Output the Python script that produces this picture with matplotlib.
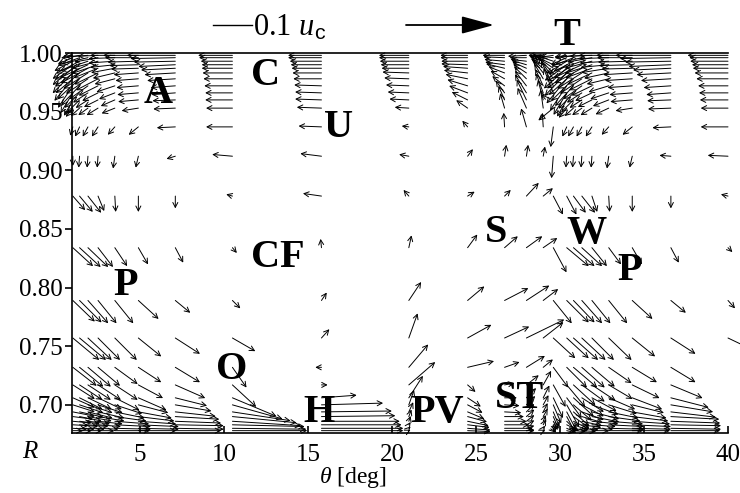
import numpy as np
import matplotlib
matplotlib.use("Agg")
import matplotlib.pyplot as plt
from matplotlib.lines import Line2D

plt.rcParams['font.family'] = 'Liberation Serif'
plt.rcParams['mathtext.fontset'] = 'custom'
plt.rcParams['mathtext.rm'] = 'Liberation Serif'
plt.rcParams['mathtext.it'] = 'Liberation Serif:italic'
plt.rcParams['mathtext.sf'] = 'Liberation Sans'

# measurement stations
theta = [1.0, 1.4, 1.9, 2.5, 3.5, 4.9, 7.1, 10.5, 15.8, 21.0, 24.5, 26.7,
         28.0, 29.0, 29.6, 30.4, 30.8, 31.3, 31.9, 32.9, 34.3, 36.6, 40.0]
R = [0.998, 0.996, 0.993, 0.990, 0.987, 0.983, 0.978, 0.972, 0.966, 0.960,
     0.953, 0.937, 0.912, 0.878, 0.834, 0.789, 0.757, 0.732, 0.717, 0.706,
     0.700, 0.694, 0.690, 0.686, 0.683, 0.680, 0.678]

nan = np.nan
# velocity components in units of 0.001 u_c (rows = R, columns = theta)
U = [
    [-11, -21, -25, -23, -28, -40, -55, -39, -38, -34, -31, -25, -21, -17, -14, -14, -21, -25, -25, -34, -41, -63, -46],
    [-17, -25, -30, -27, -30, -38, -51, -38, -38, -34, -31, -24, -19, -16, -17, -18, -25, -30, -28, -34, -40, -58, -44],
    [-21, -27, -32, -30, -30, -35, -47, -36, -36, -33, -30, -23, -18, -15, -21, -23, -28, -32, -31, -33, -39, -52, -43],
    [-23, -28, -32, -30, -28, -33, -42, -35, -35, -32, -30, -22, -17, -14, -23, -25, -30, -32, -31, -32, -38, -48, -41],
    [-23, -28, -31, -28, -27, -31, -39, -35, -34, -31, -28, -21, -16, -13, -23, -26, -30, -31, -30, -31, -35, -43, -40],
    [-23, -27, -28, -27, -25, -28, -35, -34, -33, -30, -27, -18, -15, -11, -21, -25, -28, -28, -28, -28, -33, -39, -38],
    [-21, -25, -25, -25, -23, -26, -32, -33, -32, -28, -25, -16, -14, -10, -17, -23, -25, -25, -26, -25, -31, -34, -36],
    [-17, -21, -21, -22, -21, -25, -28, -32, -31, -26, -23, -14, -13, -9, -14, -19, -21, -21, -23, -23, -28, -31, -34],
    [-14, -17, -17, -18, -18, -24, -27, -31, -30, -24, -21, -10, -13, -8, -11, -15, -17, -17, -19, -21, -26, -28, -33],
    [-10, -14, -14, -16, -16, -23, -26, -31, -30, -22, -18, -7, -11, -6, -14, -11, -14, -14, -16, -18, -25, -27, -32],
    [-8, -10, -11, -13, -15, -19, -25, -30, -28, -16, -13, -5, -10, -3, -17, -9, -10, -11, -13, -15, -19, -26, -31],
    [-3, -5, -6, -7, -8, -11, -21, -30, -26, -8, -6, -1, -6, -1, -3, -5, -6, -6, -7, -8, -11, -21, -31],
    [0, -1, -1, -1, -2, -3, -10, -23, -24, -11, 6, 2, 2, 2, -2, -1, -1, -1, -1, -2, -3, -13, -23],
    [14, 15, 15, 7, 1, 0, 0, -7, -21, -6, 8, 7, 14, 11, 11, 11, 14, 15, 6, 1, 0, 0, -8],
    [23, 24, 23, 17, 14, 11, 9, 5, -1, 3, 11, 15, 18, 16, 15, 25, 24, 23, 17, 14, 11, 9, 5],
    [25, 25, 23, 21, 21, 23, 17, 9, 6, 14, 19, 27, 26, 17, 21, 25, 24, 23, 21, 21, 23, 17, 8],
    [30, 30, 27, 25, 25, 26, 28, 26, 9, 10, 27, 28, 43, 23, 25, 25, 28, 27, 25, 26, 26, 28, 23],
    [27, 27, 26, 25, 26, 26, 28, 16, -7, 22, 30, 17, 21, 11, 17, 23, 27, 26, 26, 26, 28, 28, nan],
    [25, 26, 26, 26, 26, 28, 34, 27, 7, 30, 9, 11, 14, 9, 14, 21, 25, 26, 27, 27, 31, 36, nan],
    [25, 26, 27, 27, 28, 32, 36, 50, 40, 16, 15, 14, 11, 7, 11, 17, 23, 25, 28, 30, 34, 43, nan],
    [25, 27, 28, 28, 31, 34, 41, 57, 70, 6, 17, 17, 10, 6, 9, 14, 21, 25, 30, 32, 36, 48, nan],
    [25, 27, 28, 30, 34, 38, 46, 66, 80, 5, 19, 19, 9, 5, 7, 11, 18, 25, 31, 34, 39, 51, nan],
    [23, 25, 27, 30, 36, 41, 50, 73, 84, 3, 22, 22, 9, 5, 6, 9, 18, 24, 31, 36, 41, 55, nan],
    [21, 23, 25, 28, 39, 43, 52, 78, 89, 2, 24, 25, 9, 3, 5, 11, 18, 23, 30, 39, 43, 56, nan],
    [18, 21, 23, 26, 41, 46, 55, 82, 91, 2, 25, 28, 9, 3, 3, 14, 17, 22, 27, 40, 44, 57, nan],
    [16, 17, 19, 23, 41, 46, 55, 84, 93, 2, 26, 32, 9, 2, 3, 11, 16, 19, 24, 40, 44, 57, nan],
    [11, 14, 16, 18, 40, 43, 52, 85, 93, 2, 26, 34, 9, 2, 2, 9, 14, 16, 19, 39, 43, 56, nan],
]
V = [
    [-1, -3, -2, -1, 0, 0, 0, 0, 0, 0, 0, 0, -1, 0, -2, -2, -3, -2, -1, 0, 0, 0, 0],
    [-7, -9, -7, -5, -1, 0, -1, 0, 0, 0, 0, 1, 0, 2, 2, -8, -10, -7, -5, -1, 0, -1, 0],
    [-11, -14, -11, -8, -2, -1, -1, 0, 0, 0, 0, 2, 2, 5, 7, -14, -15, -11, -8, -2, -1, -1, 0],
    [-16, -17, -15, -10, -3, -1, -2, 0, 0, 0, 1, 3, 5, 7, 11, -18, -19, -15, -10, -3, -1, -2, 0],
    [-19, -21, -17, -11, -5, -1, -2, 0, 0, 0, 2, 5, 7, 10, 16, -23, -23, -17, -11, -5, -1, -2, 0],
    [-23, -23, -18, -13, -6, -2, -2, 0, 0, 1, 3, 7, 10, 14, 21, -26, -25, -18, -13, -6, -2, -2, 0],
    [-25, -23, -17, -13, -6, -2, -2, 0, 0, 1, 5, 9, 14, 17, 25, -28, -25, -17, -13, -6, -2, -2, 0],
    [-25, -22, -15, -11, -7, -2, -2, 0, 1, 1, 7, 11, 17, 19, 28, -28, -23, -15, -11, -7, -2, -2, 0],
    [-23, -17, -11, -9, -7, -2, -2, 0, 1, 1, 8, 14, 21, 22, 28, -25, -18, -11, -9, -7, -2, -2, 0],
    [-18, -14, -9, -8, -7, -2, -1, 0, 1, 1, 9, 16, 23, 23, 6, -19, -14, -9, -8, -7, -2, -1, 0],
    [-10, -9, -8, -8, -6, -3, -1, 0, 1, 1, 9, 17, 23, 21, -14, -11, -9, -8, -8, -7, -3, -1, 0],
    [-10, -11, -11, -11, -9, -9, -1, 0, 1, 1, 7, 16, 21, 16, -23, -11, -11, -11, -11, -9, -9, -1, 0],
    [-11, -13, -13, -13, -14, -13, -3, 2, 3, 2, 8, 13, 13, 11, -25, -13, -13, -13, -13, -14, -13, 1, 1],
    [-16, -18, -19, -17, -18, -18, -14, 2, 3, 7, 5, 7, 15, 9, -21, -21, -19, -19, -18, -18, -18, -14, 2],
    [-21, -22, -22, -22, -21, -19, -17, -6, 10, 14, 15, 13, 13, 11, -28, -21, -21, -21, -21, -19, -19, -17, -5],
    [-24, -25, -26, -26, -26, -21, -14, -9, 9, 21, 16, 14, 17, 13, -26, -25, -25, -26, -26, -26, -21, -14, -9],
    [-25, -25, -25, -25, -25, -21, -18, -15, 10, 28, 15, 13, 21, 18, -23, -23, -25, -25, -25, -25, -21, -18, -11],
    [-21, -22, -22, -21, -19, -17, -17, -23, 0, 26, 7, 6, 13, 9, -23, -23, -23, -23, -22, -18, -17, -17, nan],
    [-16, -17, -17, -17, -17, -15, -15, -25, 0, 26, -8, 2, 11, 16, -25, -25, -23, -19, -18, -16, -15, -15, nan],
    [-11, -13, -13, -13, -14, -14, -9, -21, 3, 25, -10, 0, 11, 14, -23, -23, -21, -16, -15, -13, -13, -11, nan],
    [-8, -9, -9, -9, -10, -9, -7, -16, 2, 17, -9, -1, 10, 11, -21, -25, -18, -13, -11, -10, -9, -8, nan],
    [-5, -6, -7, -7, -7, -7, -5, -10, 1, 11, -8, -1, 9, 10, -17, -21, -16, -9, -8, -7, -7, -6, nan],
    [-3, -5, -5, -5, -5, -5, -3, -7, 1, 8, -6, 0, 8, 9, -14, -17, -13, -7, -6, -5, -5, -3, nan],
    [-2, -3, -3, -3, -3, -3, -2, -5, 0, 6, -5, 0, 7, 7, -10, -11, -9, -5, -3, -3, -3, -2, nan],
    [-1, -2, -2, -2, -2, -2, -1, -2, 0, 3, -3, 0, 5, 6, -7, -7, -6, -3, -2, -2, -2, -1, nan],
    [-1, -1, -1, -1, -1, -1, -1, -1, 0, 2, -2, 0, 3, 3, -5, -5, -3, -2, -1, -1, -1, -1, nan],
    [0, 0, 0, 0, 0, 0, 0, 0, 0, 1, -1, 0, 1, 1, -2, -2, -1, -1, 0, 0, 0, 0, nan],
]

# region labels
names = ['A', 'C', 'U', 'CF', 'P', 'O', 'H', 'PV', 'ST', 'S', 'W', 'P', 'T']
name_theta = [6.07, 12.5, 16.79, 13.21, 4.17, 10.48, 15.65, 22.68, 27.56, 26.19, 31.55, 34.17, 30.42]
name_R = [0.9574, 0.9727, 0.9283, 0.8175, 0.7936, 0.7219, 0.6852, 0.6852, 0.6972, 0.8388, 0.8379, 0.8064, 1.0068]

KEY = 100          # 0.1 u_c in units of 0.001 u_c
PX_PER_UNIT = 0.88  # arrow length in pixels per 0.001 u_c

fig = plt.figure(figsize=(7.4, 4.93), dpi=100)
ax = fig.add_axes([72 / 740, 60 / 493, 656 / 740, 380 / 493])
ax.set_xlim(0.95, 40)
ax.set_ylim(0.676, 1.0)

ax.spines['right'].set_visible(False)
for s in ['left', 'bottom', 'top']:
    ax.spines[s].set_linewidth(1.2)

ax.set_xticks(range(5, 41, 5))
ax.set_yticks([0.70, 0.75, 0.80, 0.85, 0.90, 0.95, 1.00])
ax.set_yticklabels(['%.2f' % y for y in [0.70, 0.75, 0.80, 0.85, 0.90, 0.95, 1.00]])
ax.tick_params(axis='x', direction='in', length=5, width=1.2, pad=8, labelsize=18)
ax.tick_params(axis='y', direction='out', length=5, width=1.2, pad=1.5, labelsize=18)

# vectors
Ua = np.array(U, dtype=float)
Va = np.array(V, dtype=float)
TT, RR = np.meshgrid(theta, R)
ok = ~np.isnan(Ua) & ((Ua != 0) | (Va != 0))
tails = np.c_[TT[ok], RR[ok]]
disp = ax.transData.transform(tails)
tips = ax.transData.inverted().transform(disp + np.c_[Ua[ok], Va[ok]] * PX_PER_UNIT)

for (x0, y0), (x1, y1) in zip(tails, tips):
    ax.annotate('', xy=(x1, y1), xytext=(x0, y0),
                arrowprops=dict(arrowstyle='->,head_length=0.35,head_width=0.18',
                                lw=0.7, color='black', shrinkA=0, shrinkB=0),
                annotation_clip=False)

for n, t, r in zip(names, name_theta, name_R):
    ax.text(t, r, n, fontsize=29, fontweight='bold', ha='center', va='baseline')

# reference vector
kx, ky = 406, 468
ax.annotate('', xy=(kx + KEY * PX_PER_UNIT, ky), xytext=(kx, ky),
            xycoords='figure pixels', textcoords='figure pixels',
            arrowprops=dict(arrowstyle='-|>,head_length=1.0,head_width=0.27',
                            lw=1.3, color='black', shrinkA=0, shrinkB=0,
                            mutation_scale=20))
fig.add_artist(Line2D([213 / 740, 252 / 740], [468 / 493, 468 / 493],
                      transform=fig.transFigure, lw=1.0, color='black'))
fig.text(253 / 740, 458 / 493, r'0.1 $u_{\mathsf{c}}$', fontsize=22,
         ha='left', va='baseline')

fig.text(30 / 740, 1 - 452 / 493, '$R$', fontsize=18, ha='center', va='center')
fig.text(353 / 740, 1 - 478 / 493, r'$\theta$ [deg]', fontsize=17,
         ha='center', va='center')

fig.savefig('out.png', dpi=100)
